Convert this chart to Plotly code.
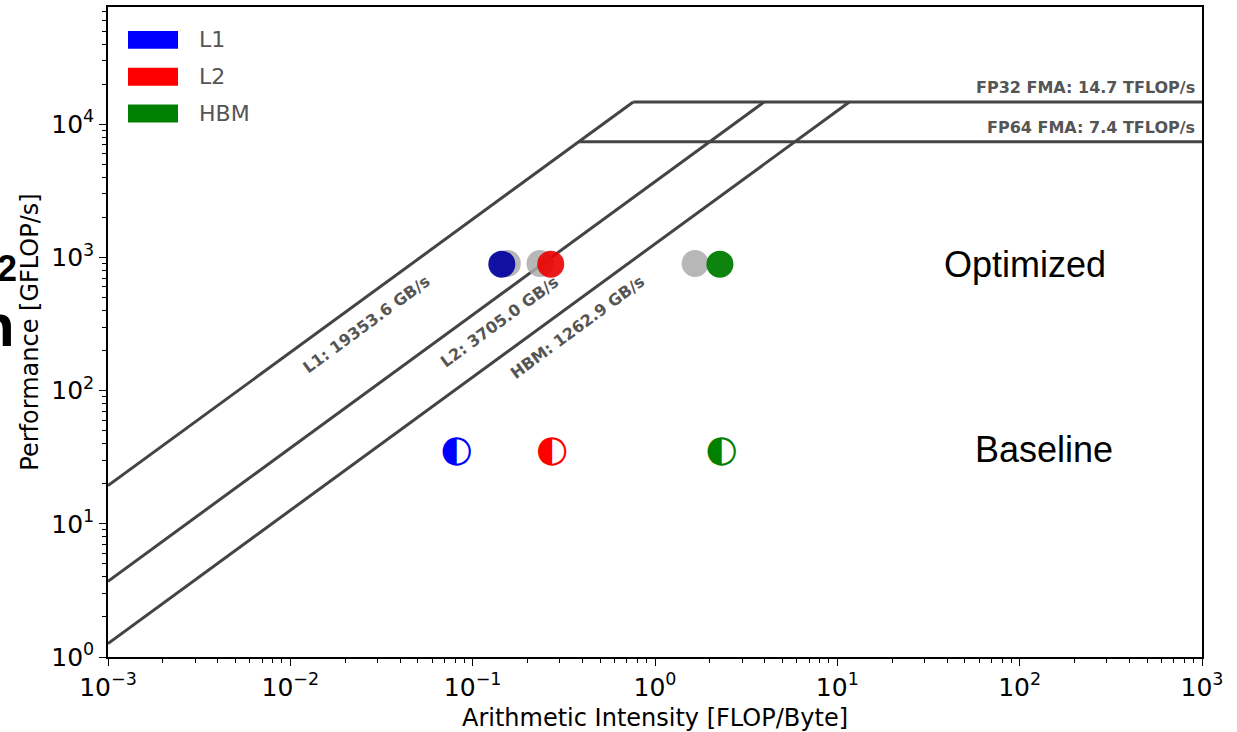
import plotly.graph_objects as go
import numpy as np

# ---- data ----
mem_levels = ["L1", "L2", "HBM"]
mem_colors = ["#0000ff", "#ff0000", "#008000"]
bandwidths = [19353.6, 3705.0, 1262.9]          # GB/s
peak_names = ["FP32 FMA", "FP64 FMA"]
peaks = [14700.0, 7400.0]                         # GFLOP/s
peak_labels = ["FP32 FMA: 14.7 TFLOP/s", "FP64 FMA: 7.4 TFLOP/s"]

opt_ai = [0.1445, 0.268, 2.27]
opt_perf = [890, 890, 890]
opt_ref_ai = [0.155, 0.234, 1.66]
opt_ref_perf = [900, 900, 900]
base_ai = [0.0818, 0.273, 2.32]
base_perf = [34.5, 34.5, 34.5]

x_tick_exp = [-3, -2, -1, 0, 1, 2, 3]
y_tick_exp = [0, 1, 2, 3, 4]

x_min, x_max = 1e-3, 1e3

fig = go.Figure()
line_col = "#444444"

# memory ceilings (diagonals up to FP32 roof)
for bw in bandwidths:
    xs = [x_min, peaks[0] / bw]
    fig.add_trace(go.Scatter(x=xs, y=[bw * v for v in xs], mode="lines",
                             line=dict(color=line_col, width=3), showlegend=False, hoverinfo="skip"))
# compute roofs
for pk in peaks:
    xs = [pk / bandwidths[0], x_max]
    fig.add_trace(go.Scatter(x=xs, y=[pk, pk], mode="lines",
                             line=dict(color=line_col, width=3), showlegend=False, hoverinfo="skip"))

# optimized (gray reference then colored)
fig.add_trace(go.Scatter(x=opt_ref_ai, y=opt_ref_perf, mode="markers",
                         marker=dict(size=27, color="rgba(170,170,170,0.85)", line=dict(width=0)),
                         showlegend=False))
opt_cols = ["rgba(10,10,160,0.97)", "rgba(235,0,0,0.9)", "rgba(0,125,0,0.95)"]
fig.add_trace(go.Scatter(x=opt_ai, y=opt_perf, mode="markers",
                         marker=dict(size=27, color=opt_cols, line=dict(width=0)),
                         showlegend=False))
# baseline half-filled markers
fig.add_trace(go.Scatter(x=base_ai, y=base_perf, mode="text", text=["◐"] * 3,
                         textposition="middle center",
                         textfont=dict(family="DejaVu Sans", size=37, color=mem_colors),
                         showlegend=False))

ang = -np.degrees(np.arctan(134.0 / 182.3))
# diagonal labels
label_ai = [0.026, 0.141, 0.374]
for lvl, bw, ai in zip(mem_levels, bandwidths, label_ai):
    fig.add_annotation(x=np.log10(ai), y=np.log10(bw * ai), xref="x", yref="y",
                       text=f"<b>{lvl}: {bw:.1f} GB/s</b>", showarrow=False,
                       textangle=ang, yshift=-27, xshift=0,
                       font=dict(family="DejaVu Sans", size=16, color="#555555"))
# roof labels
for lab, pk in zip(peak_labels, peaks):
    fig.add_annotation(x=1, xref="paper", y=np.log10(pk), yref="y", xanchor="right",
                       yanchor="bottom", text=f"<b>{lab}</b>", showarrow=False, xshift=-5, yshift=3,
                       font=dict(family="DejaVu Sans", size=16, color="#555555"))

# region labels
fig.add_annotation(x=np.log10(107), y=np.log10(890), xref="x", yref="y", text="Optimized",
                   showarrow=False, font=dict(family="Liberation Sans", size=36, color="black"))
fig.add_annotation(x=np.log10(136), y=np.log10(36), xref="x", yref="y", text="Baseline",
                   showarrow=False, font=dict(family="Liberation Sans", size=36, color="black"))

# legend (manual patches)
W, H = 1237, 732
ml, mr, mt, mb = 108, 35, 5, 74
pw, ph = W - ml - mr, H - mt - mb
def px(x):
    return (x - ml) / pw
def py(y):
    return 1 - (y - mt) / ph
leg_y = [38, 75, 112]
for lvl, col, yc in zip(mem_levels, mem_colors, leg_y):
    fig.add_shape(type="rect", xref="paper", yref="paper", x0=px(128), x1=px(178),
                  y0=py(yc + 9), y1=py(yc - 9), fillcolor=col, line=dict(width=0))
    fig.add_annotation(xref="paper", yref="paper", x=px(197), y=py(yc), xanchor="left",
                       yanchor="middle", text=lvl, showarrow=False,
                       font=dict(family="DejaVu Sans", size=22, color="#555555"))

# clipped text fragments at far left (from neighbouring slide content)
fig.add_annotation(xref="paper", yref="paper", x=px(19), y=py(268), xanchor="right",
                   yanchor="middle", text="<b>2</b>", showarrow=False,
                   font=dict(family="Liberation Sans", size=36, color="black"))
fig.add_annotation(xref="paper", yref="paper", x=px(17), y=py(325), xanchor="right",
                   yanchor="middle", text="<b>n</b>", showarrow=False,
                   font=dict(family="Liberation Sans", size=60, color="black"))

def sup(e):
    return "10<sup>" + (str(e) if e >= 0 else "\u2212" + str(-e)) + "</sup>"

axis_common = dict(type="log",
                   showline=True, mirror=True, linecolor="black", linewidth=1.5,
                   ticks="outside", ticklen=7, tickwidth=1.2, tickcolor="black",
                   showgrid=False, zeroline=False,
                   minor=dict(ticks="outside", ticklen=4, tickwidth=1, tickcolor="black",
                              dtick="D1", showgrid=False),
                   tickfont=dict(family="DejaVu Sans", size=25, color="black"),
                   title_font=dict(family="DejaVu Sans", size=24, color="black"))

fig.update_layout(
    width=W, height=H,
    margin=dict(l=ml, r=mr, t=mt, b=mb),
    plot_bgcolor="white", paper_bgcolor="white",
    showlegend=False,
    xaxis=dict(range=[-3, 3], tickvals=[10.0 ** e for e in x_tick_exp],
               ticktext=[sup(e) for e in x_tick_exp],
               title=dict(text="Arithmetic Intensity [FLOP/Byte]", standoff=8),
               **axis_common),
    yaxis=dict(range=[0, 4.88], tickvals=[10.0 ** e for e in y_tick_exp],
               ticktext=[sup(e) for e in y_tick_exp],
               title=dict(text="Performance [GFLOP/s]", standoff=6),
               **axis_common),
)

fig.write_html("out.html")
